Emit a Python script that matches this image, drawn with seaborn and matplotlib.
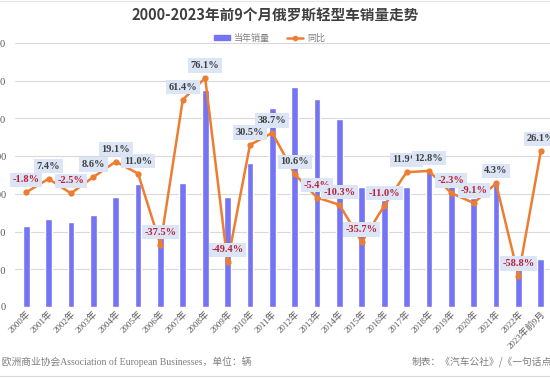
import matplotlib.pyplot as plt
import numpy as np
import pandas as pd
import seaborn as sns
from matplotlib.lines import Line2D
from matplotlib.patches import Patch

years = ['2000年', '2001年', '2002年', '2003年', '2004年', '2005年', '2006年', '2007年',
         '2008年', '2009年', '2010年', '2011年', '2012年', '2013年', '2014年', '2015年',
         '2016年', '2017年', '2018年', '2019年', '2020年', '2021年', '2022年', '2023年前9月']
sales = [860000, 933000, 902000, 976000, 1167000, 1305000, 764000, 1315000,
         2302000, 1167000, 1527000, 2111000, 2334000, 2206000, 1994000, 1273000,
         1135000, 1273000, 1432000, 1294000, 1156000, 1326000, 414000, 509000]
yoy = [-1.8, 7.4, -2.5, 8.6, 19.1, 11.0, -37.5, 61.4,
       76.1, -49.4, 30.5, 38.7, 10.6, -5.4, -10.3, -35.7,
       -11.0, 11.9, 12.8, -2.3, -9.1, 4.3, -58.8, 26.1]
y_ticks = [0, 400000, 800000, 1200000, 1600000, 2000000, 2400000, 2800000]

BAR = '#7474f4'
LINE = '#ed7d31'
GRAY = '#7f7f7f'

sns.set_style('white')
plt.rcParams['font.family'] = ['Liberation Serif', 'Noto Sans CJK SC']

df = pd.DataFrame({'year': years, 'sales': sales, 'yoy': yoy})

fig = plt.figure(figsize=(5.5, 3.78), dpi=100)
ax = fig.add_axes([15 / 550, 71 / 378, 537 / 550, 264 / 378])

# bars for yearly sales
sns.barplot(data=df, x='year', y='sales', color=BAR, saturation=1, width=0.3, ax=ax)
ax.set_xlim(-0.5, len(years) - 0.5)
ax.set_ylim(0, 2800000)
ax.set_yticks(y_ticks)
ax.set_yticklabels([f'{v:,}' for v in y_ticks], fontsize=7.5, color='#595959')
ax.tick_params(axis='y', length=0, pad=6.5)
ax.tick_params(axis='x', length=0, pad=2)
ax.set_xticks(range(len(years)))
ax.set_xticklabels(years, rotation=45, ha='right', va='top', rotation_mode='anchor',
                   fontsize=6.5, color='#595959')
ax.grid(axis='y', color='#d9d9d9', linewidth=0.8)
ax.set_axisbelow(True)
for s in ax.spines.values():
    s.set_visible(False)
ax.set_xlabel('')
ax.set_ylabel('')

# yoy line on hidden right axis
ax2 = ax.twinx()
sns.lineplot(x=np.arange(len(years)), y=df['yoy'], color=LINE, linewidth=1.8,
             marker='o', markersize=4.5, markeredgewidth=0, ax=ax2)
ax2.set_ylim(-80, 100)
ax2.set_yticks([])
ax2.set_ylabel('')
for s in ax2.spines.values():
    s.set_visible(False)

for i, v in enumerate(yoy):
    ax2.annotate(f'{v:.1f}%', (i, v), xytext=(0, 9), textcoords='offset points',
                 ha='center', va='center', fontsize=7.5, fontweight='bold',
                 color='#b8223a' if v < 0 else '#404040', zorder=5,
                 bbox=dict(boxstyle='square,pad=0.25', fc='#dce5f5', ec='none'))

fig.text(0.5, 1 - 15 / 378, '2000-2023年前9个月俄罗斯轻型车销量走势', ha='center', va='center',
         fontsize=10.5, fontweight='bold', color='#404040',
         family=['Noto Sans CJK SC'])

handles = [Patch(color=BAR), Line2D([0], [0], color=LINE, lw=1.8, marker='o', markersize=3)]
fig.legend(handles, ['当年销量', '同比'], loc='center', bbox_to_anchor=(0.49, 1 - 38 / 378),
           ncol=2, frameon=False, fontsize=6.5, labelcolor=GRAY, handlelength=1.8,
           handleheight=0.5, columnspacing=1.8, handletextpad=0.5,
           prop={'family': ['Noto Sans CJK SC'], 'size': 6.5})

fig.text(-47 / 550, 1 - 362 / 378,
         '数据来源：欧洲商业协会Association of European Businesses，单位：辆',
         ha='left', va='center', fontsize=7, color=GRAY)
fig.text(412 / 550, 1 - 362 / 378, '制表：《汽车公社》/《一句话点评》',
         ha='left', va='center', fontsize=7, color=GRAY, family=['Noto Sans CJK SC'])

fig.add_artist(Line2D([0, 1], [1 - 376 / 378] * 2, color='#d9d9d9', lw=0.8))
fig.add_artist(Line2D([0, 1], [1 - 1 / 378] * 2, color='#e5e5e5', lw=0.8))

fig.savefig('out.png', dpi=100)
